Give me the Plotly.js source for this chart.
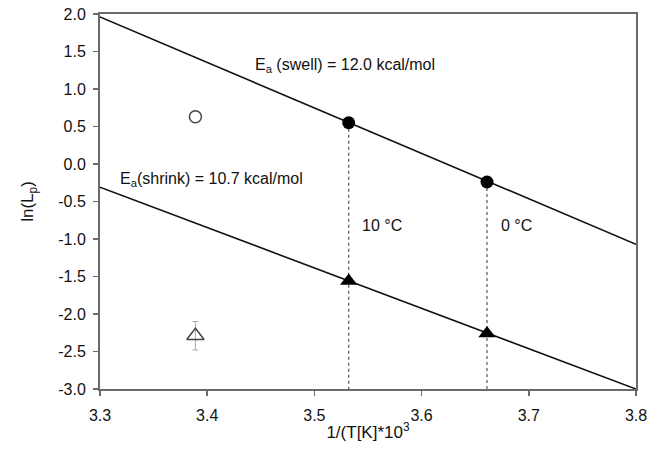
<!DOCTYPE html>
<html>
<head>
<meta charset="utf-8">
<script src="https://cdn.plot.ly/plotly-3.0.1.min.js"></script>
<style>html,body{margin:0;padding:0;background:#fff;}#chart{width:658px;height:454px;}</style>
</head>
<body>
<div id="chart"></div>
<script>
// Data
const tempLabels = ["10 °C", "0 °C"];
const invT = [3.532, 3.661];            // 1/(T[K])*10^3 for 10 °C and 0 °C
const swell = [0.55, -0.24];            // ln(Lp) swell, filled circles
const shrink = [-1.56, -2.26];          // ln(Lp) shrink, filled triangles
const invTRoom = [3.389];               // 22 °C
const swellRoom = [0.63];               // open circle
const shrinkRoom = [-2.29];             // open triangle
const shrinkRoomErr = [0.19];
const fitX = [3.3, 3.8];
const swellFit = [1.96, -1.07];
const shrinkFit = [-0.31, -3.0];
const yBottom = -3.0;
const xTicks = [3.3, 3.4, 3.5, 3.6, 3.7, 3.8];
const yTicks = [2.0, 1.5, 1.0, 0.5, 0.0, -0.5, -1.0, -1.5, -2.0, -2.5, -3.0];

const FONT = 'Liberation Sans, Arial, sans-serif';
const traces = [];

// dotted drop lines
invT.forEach((x, i) => {
  traces.push({x: [x, x], y: [swell[i], yBottom], mode: 'lines',
    line: {color: '#555', width: 1.2, dash: 'dot'}, hoverinfo: 'skip', showlegend: false});
});
// fit lines
traces.push({x: fitX, y: swellFit, mode: 'lines', line: {color: '#111', width: 1.6}, showlegend: false});
traces.push({x: fitX, y: shrinkFit, mode: 'lines', line: {color: '#111', width: 1.6}, showlegend: false});
// filled markers
traces.push({x: invT, y: swell, mode: 'markers', marker: {symbol: 'circle', size: 13, color: '#000'}, showlegend: false});
traces.push({x: invT, y: shrink, mode: 'markers', marker: {symbol: 'triangle-up', size: 15, color: '#000'}, showlegend: false});
// open markers
traces.push({x: invTRoom, y: swellRoom, mode: 'markers',
  marker: {symbol: 'circle-open', size: 12, color: '#444', line: {width: 1.5, color: '#444'}}, showlegend: false});
traces.push({x: invTRoom, y: shrinkRoom, mode: 'markers',
  error_y: {type: 'data', array: shrinkRoomErr, visible: true, color: '#aaa', thickness: 1, width: 3},
  marker: {symbol: 'triangle-up-open', size: 15, color: '#444', line: {width: 1.5, color: '#444'}}, showlegend: false});

const annFont = {family: FONT, size: 16, color: '#111'};
const layout = {
  width: 658, height: 454,
  margin: {l: 100, r: 22, t: 14, b: 65},
  paper_bgcolor: '#fff', plot_bgcolor: '#fff',
  font: {family: FONT, size: 16, color: '#111'},
  showlegend: false,
  xaxis: {
    range: [3.3, 3.8], tickvals: xTicks, ticktext: xTicks.map(v => v.toFixed(1)),
    showgrid: false, zeroline: false, showline: true, mirror: true,
    linecolor: '#6a6a6a', linewidth: 2, ticks: 'outside', ticklen: 5, tickcolor: '#6a6a6a', tickwidth: 1.5,
    ticklabelstandoff: 6,
    tickfont: {family: FONT, size: 16, color: '#111'},
    title: {text: '1/(T[K]*10<sup>3</sup>', font: {family: FONT, size: 17, color: '#111'}, standoff: 3}
  },
  yaxis: {
    range: [-3.0, 2.0], tickvals: yTicks, ticktext: yTicks.map(v => v.toFixed(1)),
    showgrid: false, zeroline: false, showline: true, mirror: true,
    linecolor: '#6a6a6a', linewidth: 2, ticks: 'outside', ticklen: 5, tickcolor: '#6a6a6a', tickwidth: 1.5,
    ticklabelstandoff: 4,
    tickfont: {family: FONT, size: 16, color: '#111'},
    title: {text: 'ln(L<sub>p</sub>)', font: {family: FONT, size: 17, color: '#111'}, standoff: 20}
  },
  annotations: [
    {x: 3.4427, y: 1.31, xref: 'x', yref: 'y', xanchor: 'left', yanchor: 'middle', showarrow: false,
      text: 'E<sub>a</sub> (swell) = 12.0 kcal/mol', font: annFont},
    {x: 3.317, y: -0.213, xref: 'x', yref: 'y', xanchor: 'left', yanchor: 'middle', showarrow: false,
      text: 'E<sub>a</sub>(shrink) = 10.7 kcal/mol', font: annFont},
    {x: 3.5425, y: -0.814, xref: 'x', yref: 'y', xanchor: 'left', yanchor: 'middle', showarrow: false,
      text: tempLabels[0], font: annFont},
    {x: 3.6725, y: -0.814, xref: 'x', yref: 'y', xanchor: 'left', yanchor: 'middle', showarrow: false,
      text: tempLabels[1], font: annFont}
  ]
};

Plotly.newPlot('chart', traces, layout, {staticPlot: true, displayModeBar: false});
</script>
</body>
</html>
